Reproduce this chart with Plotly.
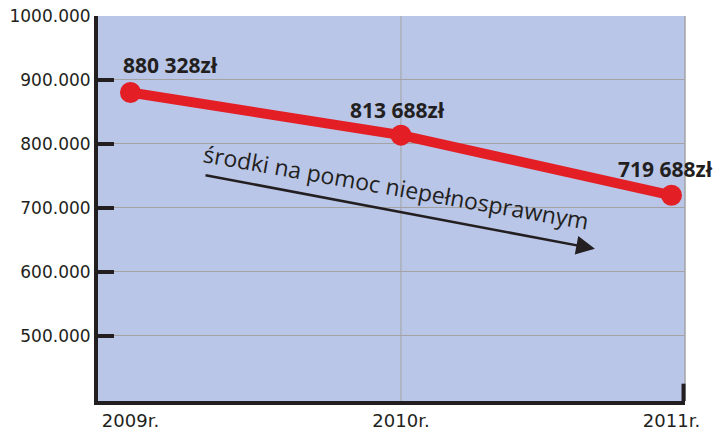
import plotly.graph_objects as go

years = [2009, 2010, 2011]
values = [880328, 813688, 719688]
value_labels = ["880 328zł", "813 688zł", "719 688zł"]
x_tick_labels = ["2009r.", "2010r.", "2011r."]
y_tick_vals = [500000, 600000, 700000, 800000, 900000, 1000000]
y_tick_labels = ["500.000", "600.000", "700.000", "800.000", "900.000", "1000.000"]
series_name = "środki na pomoc niepełnosprawnym"

DARK = "#231f20"
RED = "#e31e24"
GRID = "#a3a3a3"

fig = go.Figure()
fig.add_trace(go.Scatter(
    x=years, y=values, mode="lines+markers",
    line=dict(color=RED, width=10),
    marker=dict(color=RED, size=21),
    cliponaxis=False, showlegend=False, hoverinfo="skip",
))

for yr, v, lab, xs, ys in zip(years, values, value_labels, [40, -3, -6], [28, 25, 26]):
    fig.add_annotation(x=yr, y=v, text="<b>%s</b>" % lab, showarrow=False,
                       xshift=xs, yshift=ys,
                       font=dict(family="Open Sans", size=21, color=DARK))

# series description with arrow
fig.add_annotation(x=2010.717, y=636000, ax=2009.272, ay=751500,
                   xref="x", yref="y", axref="x", ayref="y",
                   showarrow=True, arrowhead=2, arrowsize=1.5, arrowwidth=2.5,
                   arrowcolor=DARK, text="")
fig.add_annotation(x=2009.982, y=733000, text=series_name, showarrow=False,
                   textangle=10,
                   font=dict(family="Open Sans", size=23, color=DARK))

# vertical gridline at 2010, right border, bottom-right tick
fig.add_shape(type="line", xref="x", yref="paper", x0=2010, x1=2010, y0=0, y1=1,
              line=dict(color=GRID, width=1), layer="below")
fig.add_shape(type="line", xref="paper", yref="paper", x0=1, x1=1, y0=0, y1=1,
              line=dict(color=GRID, width=1.5), layer="below")
fig.add_shape(type="line", xref="paper", yref="paper", x0=0.9975, x1=0.9975, y0=0, y1=0.045,
              line=dict(color=DARK, width=4))

fig.update_layout(
    width=721, height=430,
    margin=dict(l=98, r=36, t=16, b=29, autoexpand=False),
    paper_bgcolor="white", plot_bgcolor="#b9c6e8",
    showlegend=False,
    xaxis=dict(range=[2008.88, 2011.05], tickvals=years, ticktext=x_tick_labels,
               automargin=False,
               showgrid=False, zeroline=False, showline=True, linecolor=DARK, linewidth=4,
               ticks="", tickfont=dict(family="DejaVu Sans", size=18, color=DARK)),
    yaxis=dict(range=[398000, 1000000], tickvals=y_tick_vals, ticktext=y_tick_labels,
               automargin=False,
               showgrid=True, gridcolor=GRID, gridwidth=1, zeroline=False,
               showline=True, linecolor=DARK, linewidth=4,
               ticks="inside", ticklen=16, tickwidth=4, tickcolor=DARK,
               tickfont=dict(family="DejaVu Sans", size=17, color=DARK)),
)

fig.write_html("out.html", config={"displayModeBar": False},
               post_script="document.body.style.margin='0';document.body.style.overflow='hidden';")
